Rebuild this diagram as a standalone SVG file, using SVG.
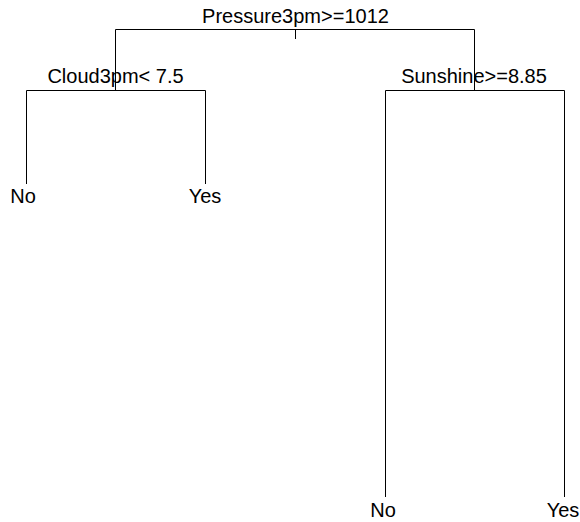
<svg xmlns="http://www.w3.org/2000/svg" width="580" height="522" viewBox="0 0 580 522">
<style>
.e{fill:none;stroke:#000;stroke-width:1}
text{font-family:"Liberation Sans",Arial,sans-serif;font-size:20px;fill:#000;text-anchor:middle}
</style>
<rect width="580" height="522" fill="#fff"/>
<g id="connectors">
<path class="e" d="M295.5,29 V39"/>
<path class="e" d="M115.5,90 V29.5 H474.5 V90"/>
<path class="e" d="M26.5,184 V90.5 H205.5 V184"/>
<path class="e" d="M385.5,497 V90.5 H564.5 V497"/>
</g>
<g id="n-root"><text x="295.5" y="23">Pressure3pm&gt;=1012</text></g>
<g id="n-cloud"><text x="115.5" y="83">Cloud3pm&lt; 7.5</text></g>
<g id="n-sun"><text x="474" y="83">Sunshine&gt;=8.85</text></g>
<g id="leaf1"><text x="23" y="203">No</text></g>
<g id="leaf2"><text x="205" y="203">Yes</text></g>
<g id="leaf3"><text x="383" y="517">No</text></g>
<g id="leaf4"><text x="563" y="517">Yes</text></g>
</svg>
